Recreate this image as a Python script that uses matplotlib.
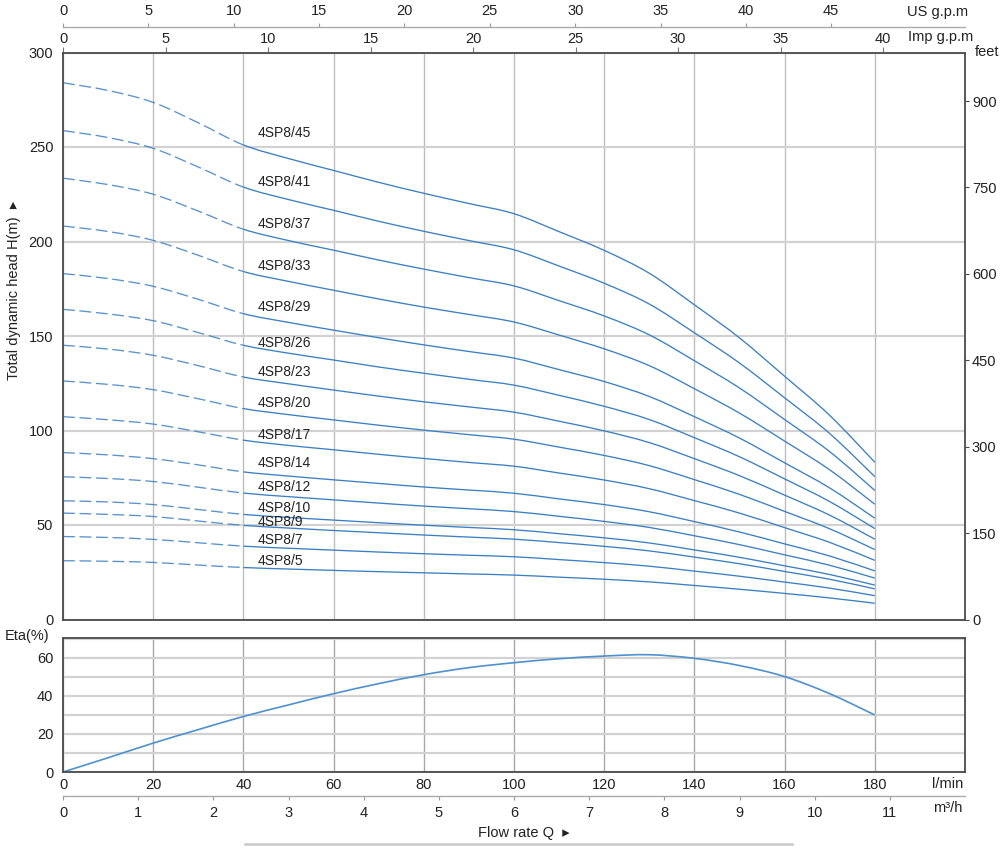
import matplotlib
matplotlib.use("Agg")
import matplotlib.pyplot as plt
from matplotlib.lines import Line2D
from matplotlib.path import Path
from matplotlib.patches import PathPatch

plt.rcParams['font.family'] = ['Liberation Sans', 'DejaVu Sans']

# ---------------- data ----------------
flow_lpm = [0, 10, 20, 30, 40, 50, 60, 70, 80, 90, 100, 110, 120, 130, 140, 150, 160, 170, 180]

h_45 = [284.0, 279.9, 273.6, 262.8, 251.1, 243.9, 237.6, 231.3, 225.5, 220.1, 214.7, 205.2, 195.3, 183.2, 166.5, 149.0, 128.7, 108.0, 83.2]
h_41 = [258.7, 255.0, 249.3, 239.4, 228.8, 222.2, 216.5, 210.7, 205.4, 200.5, 195.6, 187.0, 177.9, 166.9, 151.7, 135.7, 117.3, 98.4, 75.6]
h_37 = [233.5, 230.1, 225.0, 216.1, 206.5, 200.5, 195.4, 190.2, 185.4, 180.9, 176.5, 168.7, 160.6, 150.6, 136.9, 122.5, 105.8, 88.8, 68.3]
h_33 = [208.2, 205.3, 200.6, 192.7, 184.1, 178.9, 174.2, 169.6, 165.3, 161.4, 157.4, 150.5, 143.2, 134.3, 122.1, 109.2, 94.4, 79.2, 61.0]
h_29 = [183.0, 180.4, 176.3, 169.4, 161.8, 157.2, 153.1, 149.1, 145.3, 141.8, 138.3, 132.2, 125.9, 118.0, 107.3, 96.0, 82.9, 69.6, 53.6]
h_26 = [164.1, 161.7, 158.1, 151.8, 145.1, 140.9, 137.3, 133.6, 130.3, 127.1, 124.0, 118.6, 112.8, 105.8, 96.2, 86.1, 74.4, 62.4, 48.1]
h_23 = [145.1, 143.1, 139.8, 134.3, 128.3, 124.7, 121.4, 118.2, 115.2, 112.5, 109.7, 104.9, 99.8, 93.6, 85.1, 76.1, 65.8, 55.2, 42.5]
h_20 = [126.2, 124.4, 121.6, 116.8, 111.6, 108.4, 105.6, 102.8, 100.2, 97.8, 95.4, 91.2, 86.8, 81.4, 74.0, 66.2, 57.2, 48.0, 37.0]
h_17 = [107.3, 105.7, 103.4, 99.3, 94.9, 92.1, 89.8, 87.4, 85.2, 83.1, 81.1, 77.5, 73.8, 69.2, 62.9, 56.3, 48.6, 40.8, 31.3]
h_14 = [88.3, 87.1, 85.1, 81.8, 78.1, 75.9, 73.9, 72.0, 70.1, 68.5, 66.8, 63.8, 60.8, 57.0, 51.8, 46.3, 40.0, 33.6, 25.7]
h_12 = [75.5, 74.6, 73.0, 70.0, 66.9, 65.0, 63.3, 61.6, 60.0, 58.6, 57.1, 54.6, 51.9, 48.7, 44.3, 39.6, 34.2, 28.7, 21.9]
h_10 = [62.8, 62.2, 60.8, 58.2, 55.6, 54.0, 52.6, 51.2, 49.9, 48.7, 47.5, 45.4, 43.2, 40.5, 36.8, 32.9, 28.4, 23.8, 18.2]
h_9 = [56.3, 55.6, 54.5, 52.1, 49.8, 48.4, 47.1, 45.9, 44.7, 43.6, 42.5, 40.7, 38.7, 36.3, 33.0, 29.5, 25.4, 21.3, 16.2]
h_7 = [43.9, 43.4, 42.4, 40.6, 38.8, 37.7, 36.7, 35.7, 34.8, 34.0, 33.2, 31.7, 30.1, 28.2, 25.6, 22.9, 19.8, 16.6, 12.6]
h_5 = [31.1, 30.8, 30.2, 28.8, 27.5, 26.7, 26.0, 25.3, 24.7, 24.1, 23.5, 22.4, 21.3, 19.9, 18.0, 16.0, 13.8, 11.4, 8.6]

model_names = ["4SP8/45", "4SP8/41", "4SP8/37", "4SP8/33", "4SP8/29", "4SP8/26", "4SP8/23",
               "4SP8/20", "4SP8/17", "4SP8/14", "4SP8/12", "4SP8/10", "4SP8/9", "4SP8/7", "4SP8/5"]
model_heads = [h_45, h_41, h_37, h_33, h_29, h_26, h_23, h_20, h_17, h_14, h_12, h_10, h_9, h_7, h_5]
label_heads = [257.4, 231.5, 209.3, 187.0, 165.3, 146.2, 130.9, 114.6, 97.6, 82.8, 70.1, 59.0, 51.6, 42.1, 31.0]

eta = [0, 7.5, 15.2, 22.3, 29.2, 35.3, 41.2, 46.5, 51.2, 54.9, 57.5, 59.6, 61.0, 61.7, 59.8, 56.0, 50.2, 41.2, 30.0]

head_ticks = [0, 50, 100, 150, 200, 250, 300]
feet_ticks = [0, 150, 300, 450, 600, 750, 900]
imp_ticks = [0, 5, 10, 15, 20, 25, 30, 35, 40]
us_ticks = [0, 5, 10, 15, 20, 25, 30, 35, 40, 45]
lpm_ticks = [0, 20, 40, 60, 80, 100, 120, 140, 160, 180]
m3h_ticks = [0, 1, 2, 3, 4, 5, 6, 7, 8, 9, 10, 11]
eta_ticks = [0, 20, 40, 60]

# ---------------- styling ----------------
W, H = 1000, 849
BLUE = '#3b7fc2'
SPINE = '#4a4a4a'
TXT = '#222222'
FS = 10.5

fig = plt.figure(figsize=(W / 100, H / 100), dpi=100)


def fx(px):
    return px / W


def fy(py):
    return 1 - py / H


def smooth_path(xs, ys):
    """Smooth (Catmull-Rom style) Bezier path passing through the read points."""
    n = len(xs)
    verts = [(xs[0], ys[0])]
    codes = [Path.MOVETO]
    for i in range(n - 1):
        x0, y0 = (xs[i - 1], ys[i - 1]) if i > 0 else (xs[i], ys[i])
        x1, y1 = xs[i], ys[i]
        x2, y2 = xs[i + 1], ys[i + 1]
        x3, y3 = (xs[i + 2], ys[i + 2]) if i + 2 < n else (xs[i + 1], ys[i + 1])
        c1 = (x1 + (x2 - x0) / 6.0, y1 + (y2 - y0) / 6.0)
        c2 = (x2 - (x3 - x1) / 6.0, y2 - (y3 - y1) / 6.0)
        verts += [c1, c2, (x2, y2)]
        codes += [Path.CURVE4] * 3
    return Path(verts, codes)


def draw_curve(axis, xs, ys, start, stop, **kw):
    full = smooth_path(xs, ys)
    v = full.vertices[3 * start: 3 * stop + 1]
    c = [Path.MOVETO] + [Path.CURVE4] * (3 * (stop - start))
    axis.add_patch(PathPatch(Path(v, c), fill=False, transform=axis.transData, **kw))


# ---- main head axes ----
L, R = 63, 965
ax = fig.add_axes([fx(L), fy(619.5), fx(R - L), (619.5 - 52.5) / H])
ax.set_xlim(0, 200)
ax.set_ylim(0, 300)
ax.set_xticks(lpm_ticks)
ax.set_xticklabels([])
ax.set_yticks(head_ticks)
ax.tick_params(axis='x', length=0)
ax.tick_params(axis='y', length=0, pad=7, labelsize=FS, labelcolor=TXT)
ax.xaxis.grid(True, color='#bdbdbd', lw=1.0)
ax.yaxis.grid(True, color='#d2d2d2', lw=1.6)
ax.set_axisbelow(True)
for s in ax.spines.values():
    s.set_color(SPINE)
    s.set_linewidth(1.3)

split = flow_lpm.index(40)
last = len(flow_lpm) - 1
for name, hv, ly in zip(model_names, model_heads, label_heads):
    draw_curve(ax, flow_lpm, hv, 0, split, edgecolor=BLUE, lw=0.95,
               linestyle=(0, (9, 3.5)), alpha=0.85)
    draw_curve(ax, flow_lpm, hv, split, last, edgecolor=BLUE, lw=0.95)
    ax.text(43.2, ly, name, fontsize=10, color=TXT, ha='left', va='center')

ax.set_ylabel('Total dynamic head H(m)  \u25B8', fontsize=FS, color=TXT)
ax.yaxis.set_label_coords(-0.047, 0.58)

# feet axis on right
axf = ax.twinx()
axf.set_ylim(0, 300 * 3.28084)
axf.set_yticks(feet_ticks)
axf.tick_params(axis='y', direction='out', length=3, pad=2, labelsize=FS,
                labelcolor=TXT, color=SPINE)
for s in axf.spines.values():
    s.set_visible(False)

# Imp gpm on top spine
imp = ax.secondary_xaxis('top', functions=(lambda q: q / 4.54609, lambda g: g * 4.54609))
imp.set_xticks(imp_ticks)
imp.tick_params(direction='out', length=3.5, pad=1.5, labelsize=FS, labelcolor=TXT, color='#777777')
imp.spines['top'].set_visible(False)

# US gpm, separate line above
loc_us = 1 + (52.5 - 27) / 567
us = ax.secondary_xaxis(loc_us, functions=(lambda q: q / 3.78541, lambda g: g * 3.78541))
us.set_xticks(us_ticks)
us.tick_params(direction='out', length=3, pad=3.5, labelsize=FS, labelcolor=TXT, color='#999999')
us.spines['top'].set_color('#aaaaaa')
us.spines['top'].set_linewidth(1.0)

# ---- efficiency axes ----
axe = fig.add_axes([fx(L), fy(772), fx(R - L), (772 - 638) / H])
axe.set_xlim(0, 200)
axe.set_ylim(0, 70.5)
axe.set_xticks(lpm_ticks)
axe.set_yticks(eta_ticks)
axe.set_yticks([10, 30, 50, 70], minor=True)
axe.tick_params(axis='x', length=0, pad=4, labelsize=FS, labelcolor=TXT)
axe.tick_params(axis='y', which='both', length=0, pad=7, labelsize=FS, labelcolor=TXT)
axe.xaxis.grid(True, color='#a8a8a8', lw=1.0)
axe.yaxis.grid(True, which='both', color='#d2d2d2', lw=1.6)
axe.set_axisbelow(True)
for s in axe.spines.values():
    s.set_color(SPINE)
    s.set_linewidth(1.3)
draw_curve(axe, flow_lpm, eta, 0, last, edgecolor='#4f90cf', lw=1.2)

m3 = axe.secondary_xaxis(-(796 - 772) / 134, functions=(lambda q: q * 0.06, lambda m: m / 0.06))
m3.set_xticks(m3h_ticks)
m3.tick_params(direction='out', length=3, pad=4, labelsize=FS, labelcolor=TXT, color='#999999')
m3.spines['bottom'].set_color('#aaaaaa')
m3.spines['bottom'].set_linewidth(1.0)

# ---- free texts ----
fig.text(fx(968), fy(12), 'US g.p.m', fontsize=FS, color=TXT, ha='right', va='center')
fig.text(fx(973), fy(37), 'Imp g.p.m', fontsize=FS, color=TXT, ha='right', va='center')
fig.text(fx(975), fy(52), 'feet', fontsize=FS, color=TXT, ha='left', va='center')
fig.text(fx(5), fy(636), 'Eta(%)', fontsize=FS, color=TXT, ha='left', va='center')
fig.text(fx(963), fy(784), 'l/min', fontsize=FS, color=TXT, ha='right', va='center')
fig.text(fx(962), fy(808), 'm\u00b3/h', fontsize=FS, color=TXT, ha='right', va='center')
fig.text(fx(478), fy(833), 'Flow rate Q  \u25B8', fontsize=FS, color=TXT, ha='left', va='center')
fig.add_artist(Line2D([fx(245), fx(792)], [fy(843.5), fy(843.5)], color='#c8c8c8', lw=1.8))

fig.savefig('out.png', dpi=100)
